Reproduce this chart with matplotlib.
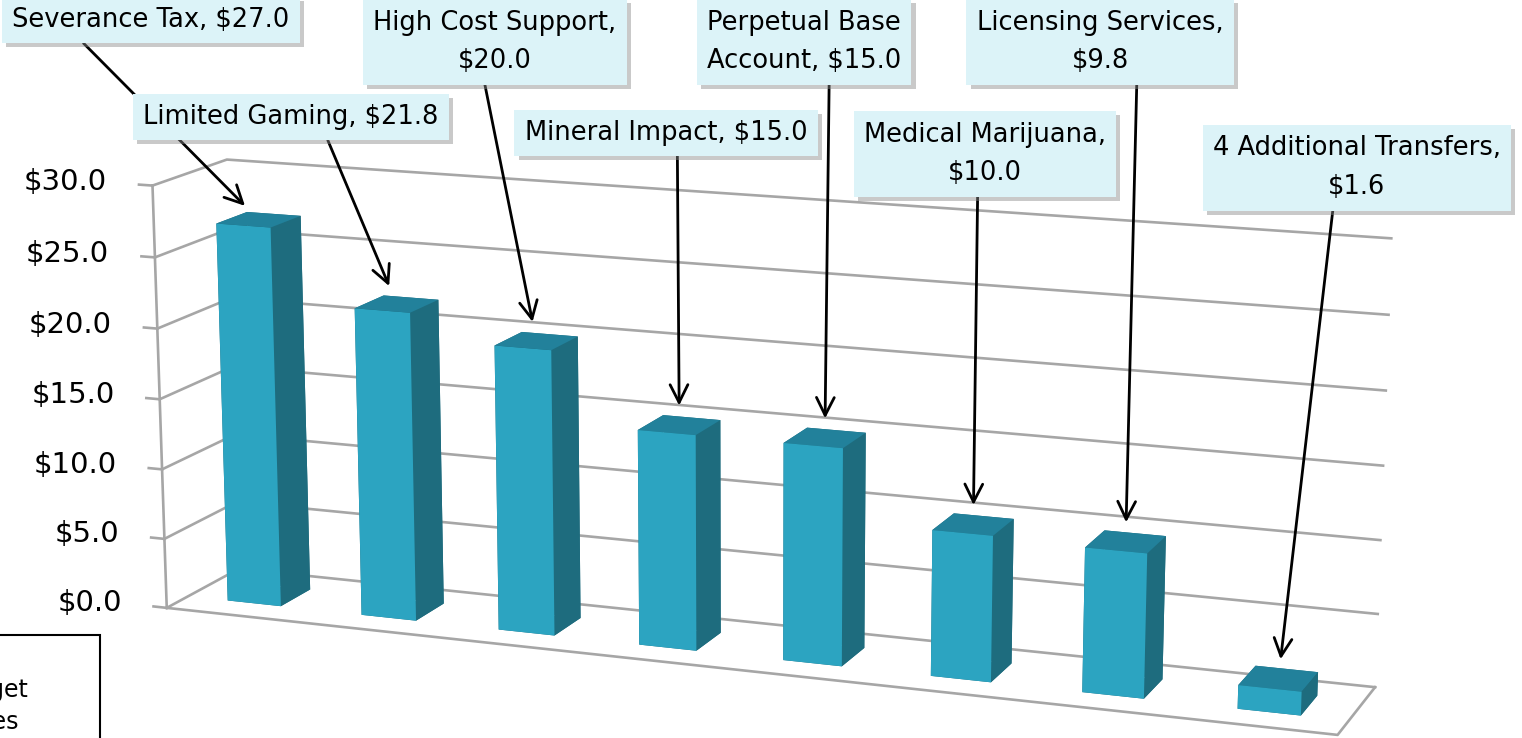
import numpy as np
import matplotlib
matplotlib.use("Agg")
import matplotlib.pyplot as plt
import matplotlib.patheffects as pe
from mpl_toolkits.mplot3d import proj3d

# data (millions of dollars)
categories = ["Severance Tax", "Limited Gaming", "High Cost Support", "Mineral Impact",
              "Perpetual Base\nAccount", "Medical Marijuana", "Licensing Services",
              "4 Additional Transfers"]
values = [27.0, 21.8, 20.0, 15.0, 15.0, 10.0, 9.8, 1.6]
label_sep = [" ", " ", "\n", " ", " ", "\n", "\n", "\n"]
ticks = [0, 5, 10, 15, 20, 25, 30]
tick_labels = ["$%.1f" % t for t in ticks]

# callout layout in pixels (top-left origin): box centre and arrow start along box bottom
box_xy = [(151, 20), (291, 117), (495, 42), (666, 133),
          (804, 42), (985, 154), (1100, 42), (1357, 168)]
arrow_relx = [0.22, 0.61, 0.45, 0.54, 0.63, 0.47, 0.65, 0.42]

W, H = 1522, 738
grid_col = "#A6A6A6"
c_front, c_top, c_side = "#2CA4C1", "#22819B", "#1E6C7E"

fig = plt.figure(figsize=(W / 100, H / 100), dpi=100)
# square 3D panel (mplot3d forces a square box), larger than the figure
S = 1600
ax = fig.add_axes([(730 - S / 2) / W, (285 - S / 2) / H, S / W, S / H],
                  projection="3d", computed_zorder=False)
ax.set_proj_type("persp", focal_length=0.49)
ax.view_init(elev=13.6, azim=-69.5)

x0, x1 = -0.5, len(values) - 0.5
y0, y1 = 0.0, 1.0

# walls: left side + back gridlines
for t in ticks:
    ax.plot([x0, x0, x1], [y0, y1, y1], [t, t, t], color=grid_col, lw=1.9, zorder=1)
# floor front/right edges and value axis
ax.plot([x0, x1, x1], [y0, y0, y1], [0, 0, 0], color=grid_col, lw=1.9, zorder=1)
ax.plot([x0, x0], [y0, y0], [0, ticks[-1]], color=grid_col, lw=1.9, zorder=1)
for t in ticks:
    ax.plot([x0 - 0.1, x0], [y0, y0], [t, t], color=grid_col, lw=1.9, zorder=1)

# bars
n = len(values)
bw, bd = 0.4, 0.42
face_cols = [c_side, c_top, c_front, c_side, c_side, c_side] * n
ax.bar3d(np.arange(n) - bw / 2, np.full(n, 0.29), np.zeros(n), bw, bd, values,
         color=face_cols, shade=False, linewidth=0, zorder=2)

ax.set_xlim(x0, x1)
ax.set_ylim(y0, y1)
ax.set_zlim(0, ticks[-1])
ax.set_box_aspect((8.5, 1.12, 3.06), zoom=0.808)
ax.set_axis_off()

# overlay for labels and callouts
fig.canvas.draw()
ov = fig.add_axes([0, 0, 1, 1])
ov.set_xlim(0, W)
ov.set_ylim(H, 0)
ov.axis("off")
ov.patch.set_alpha(0)

M = ax.get_proj()
inv = ov.transData.inverted()


def to_overlay(x, y, z):
    xp, yp, _ = proj3d.proj_transform(x, y, z, M)
    return inv.transform(ax.transData.transform((xp, yp)))


for t, lab in zip(ticks, tick_labels):
    px, py = to_overlay(x0 - 0.34, y0, t)
    ov.text(px, py, lab, ha="right", va="center", fontsize=21)

for i, (cat, v) in enumerate(zip(categories, values)):
    tx, ty = to_overlay(i, 0.5, v)
    ann = ov.annotate(
        f"{cat},{label_sep[i]}${v:.1f}", xy=(tx, ty), xytext=box_xy[i],
        ha="center", va="center", fontsize=18.5, linespacing=1.65,
        bbox=dict(boxstyle="square,pad=0.4", fc="#DCF3F8", ec="none"),
        arrowprops=dict(arrowstyle="->", color="black", lw=2, mutation_scale=32,
                        relpos=(arrow_relx[i], 0.0), shrinkA=0, shrinkB=14),
        zorder=5)
    ann.get_bbox_patch().set_path_effects(
        [pe.SimplePatchShadow(offset=(3, -3), shadow_rgbFace="#888888", alpha=0.45),
         pe.Normal()])

# partially visible legend box at bottom-left
ov.add_patch(plt.Rectangle((-10, 635), 110, 120, fill=False, ec="black", lw=1.5))
ov.text(29, 690, "Budget", ha="right", va="center", fontsize=17)
ov.text(19, 722, "Sources", ha="right", va="center", fontsize=17)

fig.savefig("out.png", dpi=100)
